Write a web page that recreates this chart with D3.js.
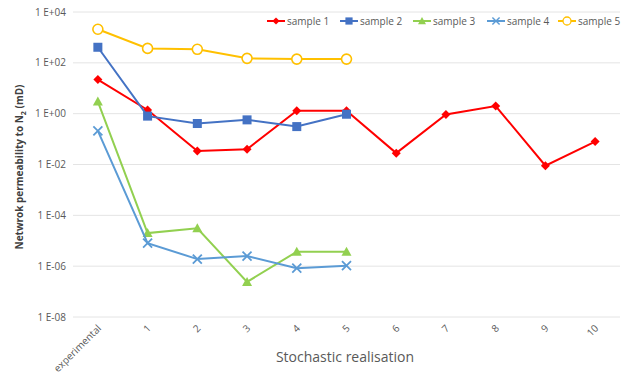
<!DOCTYPE html>
<html>
<head>
<meta charset="utf-8">
<script src="https://cdn.jsdelivr.net/npm/d3@7"></script>
<style>
  body { margin: 0; background: #fff; }
  text { font-family: "Open Sans", "Liberation Sans", sans-serif; }
</style>
</head>
<body>
<script>
var width = 634,
    height = 381;

var categories = ["experimental", "1", "2", "3", "4", "5", "6", "7", "8", "9", "10"];
var sample1 = [22, 1.4, 0.034, 0.04, 1.3, 1.3, 0.028, 0.93, 2.0, 0.009, 0.08];
var sample2 = [410, 0.8, 0.41, 0.57, 0.31, 0.95];
var sample3 = [3, 2e-5, 3.1e-5, 2.4e-7, 3.7e-6, 3.7e-6];
var sample4 = [0.21, 8e-6, 1.9e-6, 2.5e-6, 8.3e-7, 1.05e-6];
var sample5 = [2100, 370, 340, 150, 140, 140];
var yTicks = [1e4, 1e2, 1, 1e-2, 1e-4, 1e-6, 1e-8];
var yTickLabels = ["1 E+04", "1 E+02", "1 E+00", "1 E-02", "1 E-04", "1 E-06", "1 E-08"];

var series = [
  { name: "sample 1", values: sample1, color: "#FF0000", marker: "diamond" },
  { name: "sample 2", values: sample2, color: "#4472C4", marker: "square" },
  { name: "sample 3", values: sample3, color: "#92D050", marker: "triangle" },
  { name: "sample 4", values: sample4, color: "#5B9BD5", marker: "cross" },
  { name: "sample 5", values: sample5, color: "#FFC000", marker: "circle" }
];

var margin = { left: 73, right: 14, top: 12, bottom: 64 };

var x = d3.scaleBand()
  .domain(categories)
  .range([margin.left, width - margin.right]);

var y = d3.scaleLog()
  .domain([1e-8, 1e4])
  .range([height - margin.bottom, margin.top]);

var svg = d3.select("body").append("svg")
  .attr("width", width)
  .attr("height", height);

// gridlines
svg.append("g")
  .selectAll("line")
  .data(yTicks)
  .enter().append("line")
    .attr("x1", margin.left)
    .attr("x2", width - margin.right)
    .attr("y1", function(d) { return y(d); })
    .attr("y2", function(d) { return y(d); })
    .attr("stroke", "#e4e4e4")
    .attr("stroke-width", 1);

// y axis labels
svg.append("g")
  .selectAll("text")
  .data(yTicks)
  .enter().append("text")
    .attr("x", 66)
    .attr("y", function(d) { return y(d); })
    .attr("dy", "0.35em")
    .attr("text-anchor", "end")
    .attr("font-size", 10)
    .attr("fill", "#595959")
    .text(function(d, i) { return yTickLabels[i]; });

// x axis labels (rotated)
svg.append("g")
  .selectAll("text")
  .data(categories)
  .enter().append("text")
    .attr("transform", function(d) {
      return "translate(" + (x(d) + x.bandwidth() / 2 + 4) + "," + (height - margin.bottom + 12) + ") rotate(-45)";
    })
    .attr("text-anchor", "end")
    .attr("font-size", 10)
    .attr("fill", "#595959")
    .text(function(d) { return d; });

svg.append("text")
  .attr("x", 345)
  .attr("y", 362)
  .attr("text-anchor", "middle")
  .attr("font-size", 14)
  .attr("fill", "#595959")
  .text("Stochastic realisation");

var ylab = svg.append("text")
  .attr("transform", "translate(23,167) rotate(-90)")
  .attr("text-anchor", "middle")
  .attr("font-size", 10)
  .attr("font-weight", "bold")
  .attr("fill", "#404040");
ylab.append("tspan").text("Netwrok permeability to N");
ylab.append("tspan").attr("font-size", 7).attr("dy", 3).text("2");
ylab.append("tspan").attr("dy", -3).text(" (mD)");

function drawMarker(g, type, color) {
  if (type === "diamond") {
    g.append("path").attr("d", "M0,-4.5L4.5,0L0,4.5L-4.5,0Z").attr("fill", color);
  } else if (type === "square") {
    g.append("rect").attr("x", -4.5).attr("y", -4.5).attr("width", 9).attr("height", 9).attr("fill", color);
  } else if (type === "triangle") {
    g.append("path").attr("d", "M0,-5L5,4L-5,4Z").attr("fill", color);
  } else if (type === "cross") {
    g.append("path").attr("d", "M-4.5,-4.5L4.5,4.5M-4.5,4.5L4.5,-4.5")
      .attr("stroke", color).attr("stroke-width", 1.8).attr("fill", "none");
  } else if (type === "circle") {
    g.append("circle").attr("r", 5).attr("fill", "#fff")
      .attr("stroke", color).attr("stroke-width", 1.6);
  }
}

var line = d3.line()
  .x(function(d, i) { return x(categories[i]) + x.bandwidth() / 2; })
  .y(function(d) { return y(d); });

series.forEach(function(s) {
  var g = svg.append("g");
  g.append("path")
    .datum(s.values)
    .attr("d", line)
    .attr("fill", "none")
    .attr("stroke", s.color)
    .attr("stroke-width", 2);
  s.values.forEach(function(v, i) {
    var m = g.append("g")
      .attr("transform", "translate(" + (x(categories[i]) + x.bandwidth() / 2) + "," + y(v) + ")");
    drawMarker(m, s.marker, s.color);
  });
});

// legend
var legendX = [267, 340, 413, 487, 558];
var legend = svg.append("g")
  .selectAll("g")
  .data(series)
  .enter().append("g")
    .attr("transform", function(d, i) { return "translate(" + legendX[i] + ",21)"; });

legend.append("line")
  .attr("x1", 0).attr("x2", 18)
  .attr("stroke", function(d) { return d.color; })
  .attr("stroke-width", 2);
legend.each(function(d) {
  var m = d3.select(this).append("g").attr("transform", "translate(9,0) scale(0.8)");
  drawMarker(m, d.marker, d.color);
});
legend.append("text")
  .attr("x", 20)
  .attr("dy", "0.35em")
  .attr("font-size", 10)
  .attr("fill", "#595959")
  .text(function(d) { return d.name; });
</script>
</body>
</html>
